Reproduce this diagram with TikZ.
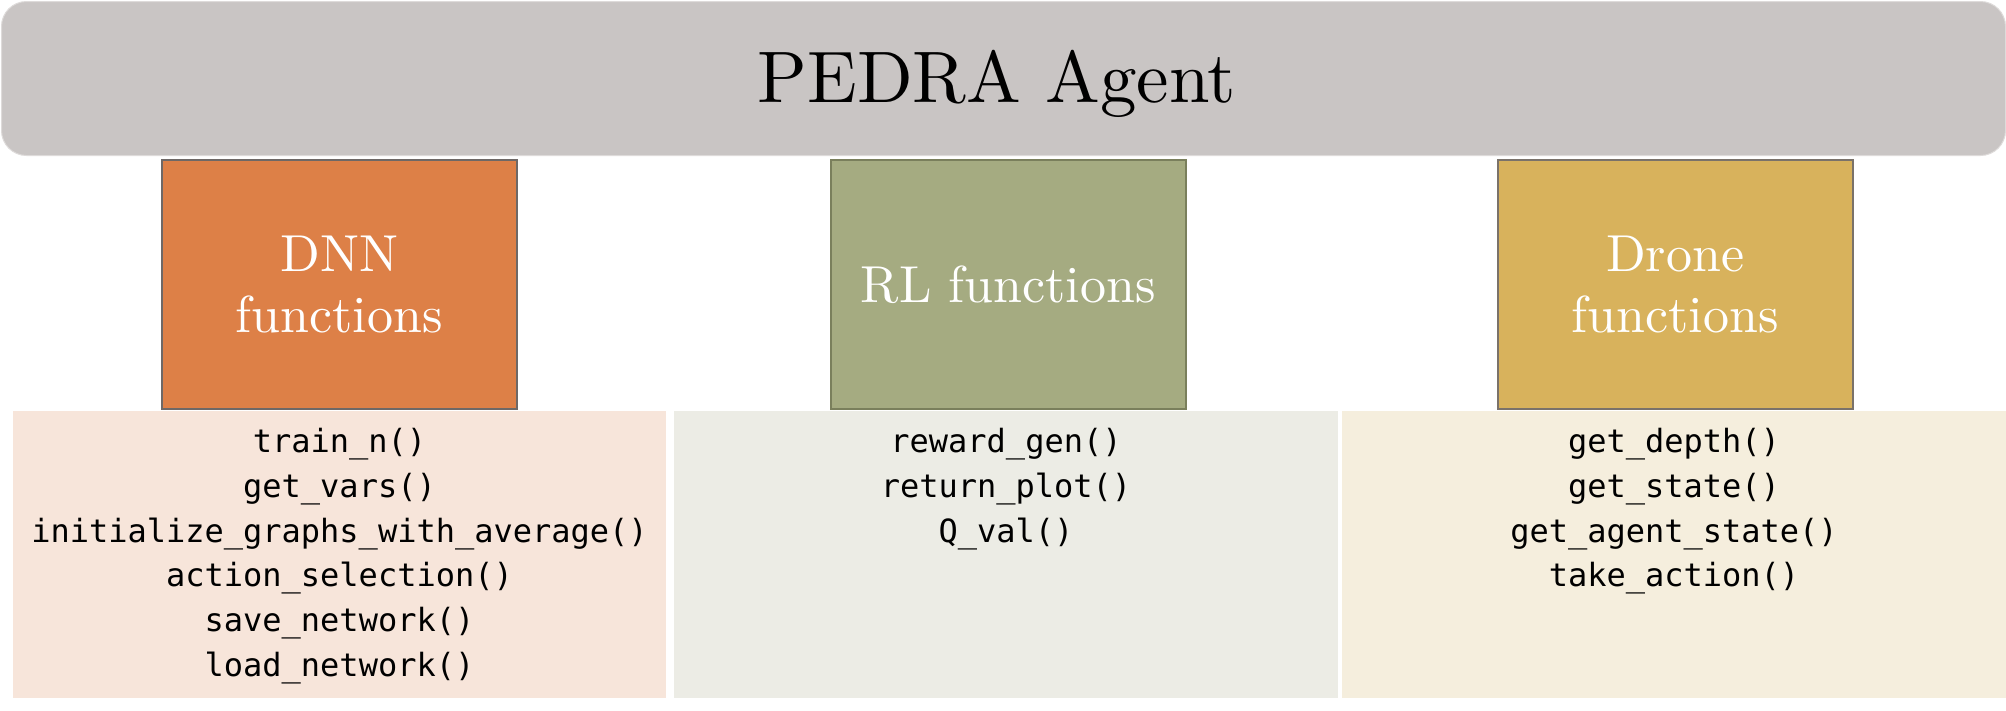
\documentclass[tikz,border=0pt]{standalone}
\usepackage{fontspec}
\newfontfamily\codefont{DejaVu Sans Mono}
\newfontfamily\tenrm{lmroman10-regular.otf}
\definecolor{bannerfill}{HTML}{C9C5C4}
\definecolor{bannerline}{HTML}{DEDBDA}
\definecolor{dnnfill}{HTML}{DD8047}
\definecolor{dnnline}{HTML}{6E6866}
\definecolor{rlfill}{HTML}{A5AB81}
\definecolor{rlline}{HTML}{7A7F5C}
\definecolor{dronefill}{HTML}{D8B25C}
\definecolor{droneline}{HTML}{7A726A}
\definecolor{pdnnfill}{HTML}{F7E5DA}
\definecolor{prlfill}{HTML}{ECECE5}
\definecolor{pdronefill}{HTML}{F5EEDD}
\begin{document}
\begin{tikzpicture}[x=1pt,y=-1pt,
  funcbox/.style={line width=1.5pt, text=white, inner sep=0pt,
    minimum width=355pt, minimum height=249pt, anchor=north west,
    align=center, font=\tenrm\fontsize{52}{61}\selectfont},
  panel/.style={inner sep=0pt, minimum height=287pt, anchor=north west},
  code/.style={inner sep=0pt, anchor=north, align=center, text=black,
    font=\codefont\fontsize{32}{44.8}\selectfont}]
\useasboundingbox (0,0) rectangle (2006,710);
% banner
\node[draw=bannerline, fill=bannerfill, line width=1pt, rounded corners=25pt,
  inner sep=0pt, minimum width=2004pt, minimum height=154pt, anchor=north west]
  (banner) at (1,1) {};
\node[anchor=base, inner sep=0pt, font=\tenrm\fontsize{73}{80}\selectfont]
  (title) at (997,102) {PEDRA Agent};
% function boxes
\node[funcbox, draw=dnnline, fill=dnnfill] (dnn) at (161,159) {DNN\\functions};
\node[funcbox, draw=rlline, fill=rlfill] (rl) at (830,159) {RL functions};
\node[funcbox, draw=droneline, fill=dronefill] (drone) at (1497,159) {Drone\\functions};
% panels
\node[panel, fill=pdnnfill, minimum width=653pt] (pdnn) at (13,411) {};
\node[panel, fill=prlfill, minimum width=664pt] (prl) at (674,411) {};
\node[panel, fill=pdronefill, minimum width=664pt] (pdrone) at (1342,411) {};
% panel texts
\node[code] (tdnn) at (339.5,428) {train\_n()\\get\_vars()\\initialize\_graphs\_with\_average()\\action\_selection()\\save\_network()\\load\_network()};
\node[code] (trl) at (1006,428) {reward\_gen()\\return\_plot()\\Q\_val()};
\node[code] (tdrone) at (1674,428) {get\_depth()\\get\_state()\\get\_agent\_state()\\take\_action()};
\end{tikzpicture}
\end{document}
